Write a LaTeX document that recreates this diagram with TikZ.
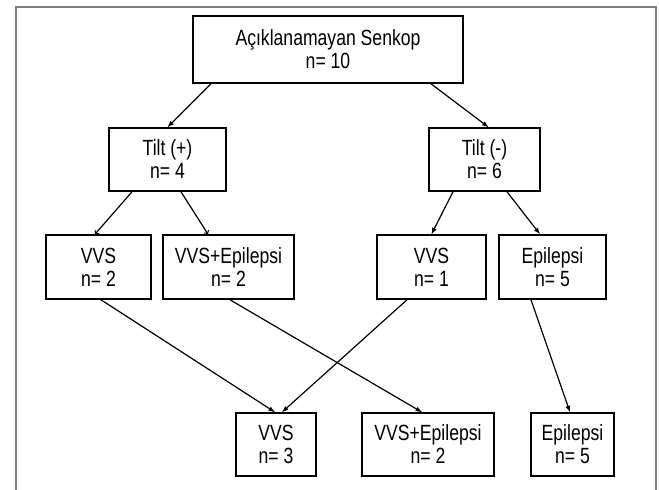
\documentclass[tikz,border=0pt]{standalone}
\usepackage{fontspec}
\setmainfont{Liberation Sans}[FakeStretch=0.8]
\begin{document}
\begin{tikzpicture}[x=1pt, y=-1pt, main/.style = {draw, rectangle, align=center, line width=1.6pt, inner sep=0pt, minimum height=64pt, font=\fontsize{22}{23}\selectfont}, edge/.style = {line width=1.2pt, -latex}, open/.style = {line width=1.2pt, ->}]
			\useasboundingbox (0,0) rectangle (659,490);
			\draw[gray, line width=1.5pt] (16,490) -- (16,7) -- (656,7) -- (656,490);
			\node[main, minimum width=270pt, minimum height=67pt] (1) at (328,49.5) {Açıklanamayan Senkop\\n= 10};
			\node[main, minimum width=117pt, minimum height=63pt] (2) at (167.5,159.5) {Tilt (+)\\n= 4};
			\node[main, minimum width=111pt, minimum height=63pt] (3) at (484.5,159.5) {Tilt (-)\\n= 6};
			\node[main, minimum width=105pt] (4) at (98.5,267) {VVS\\n= 2};
			\node[main, minimum width=131pt] (5) at (228.5,267) {VVS+Epilepsi\\n= 2};
			\node[main, minimum width=109pt] (6) at (431.5,267) {VVS\\n= 1};
			\node[main, minimum width=107pt] (7) at (552.5,267) {Epilepsi\\n= 5};
			\node[main, minimum width=80pt, minimum height=63pt] (8) at (276,444.5) {VVS\\n= 3};
			\node[main, minimum width=132pt, minimum height=63pt] (9) at (428,444.5) {VVS+Epilepsi\\n= 2};
			\node[main, minimum width=83pt, minimum height=63pt] (10) at (572.5,444.5) {Epilepsi\\n= 5};
			\draw[edge] ([xshift=-117pt]1.south) -- (2.north);
			\draw[edge] ([xshift=103pt]1.south) -- ([xshift=4pt]3.north);
			\draw[open] ([xshift=-35.5pt]2.south) -- ([xshift=-3.5pt]4.north);
			\draw[open] ([xshift=13.5pt]2.south) -- ([xshift=-20.5pt]5.north);
			\draw[edge] ([xshift=-31.5pt]3.south) -- (6.north);
			\draw[edge] ([xshift=22.5pt]3.south) -- ([xshift=-12.5pt]7.north);
			\draw[edge] ([xshift=2.5pt]4.south) -- ([xshift=-1pt]8.north);
			\draw[edge] ([xshift=1.5pt]5.south) -- ([xshift=-6pt]9.north);
			\draw[edge] ([xshift=-24.5pt]6.south) -- ([xshift=6pt]8.north);
			\draw[edge] ([xshift=-21.5pt]7.south) -- ([xshift=-2.5pt]10.north);
		\end{tikzpicture}
\end{document}
